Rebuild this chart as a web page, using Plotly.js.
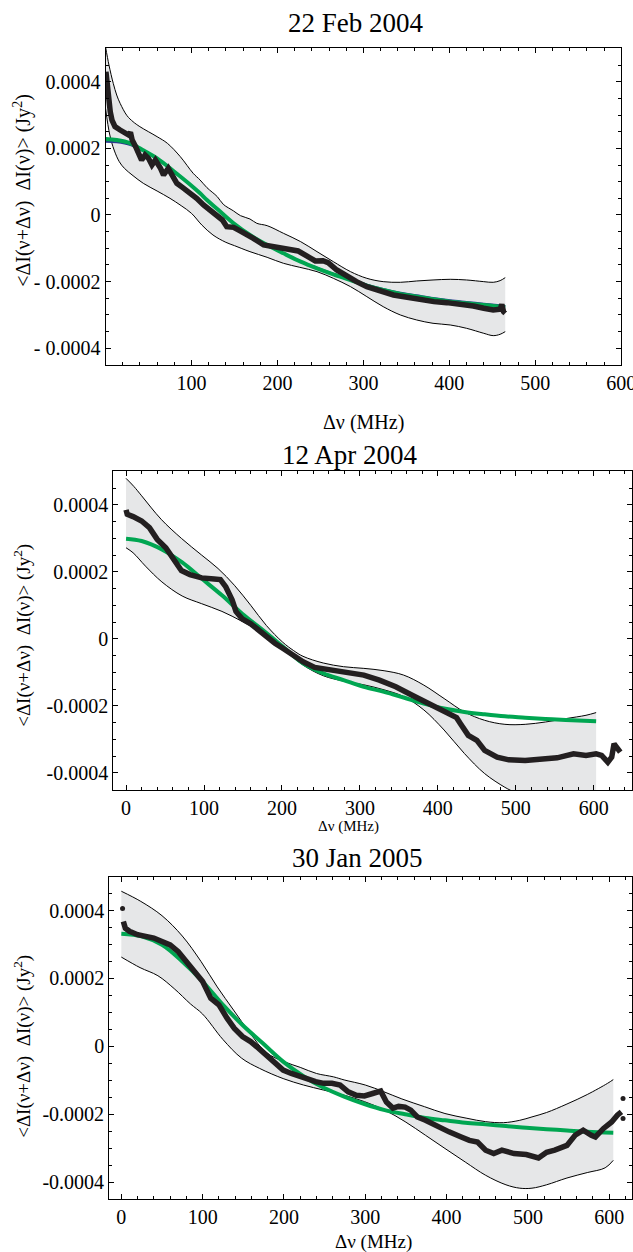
<!DOCTYPE html>
<html>
<head>
<meta charset="utf-8">
<script src="https://cdn.plot.ly/plotly-3.0.1.min.js"></script>
<style>html,body{margin:0;padding:0;background:#fff;}#chart{width:633px;height:1252px;}</style>
</head>
<body>
<div id="chart"></div>
<script>
// All y values are in units of 1e-6 Jy^2
const SCALE = 1e-6;

const panelTitles = ['22 Feb 2004', '12 Apr 2004', '30 Jan 2005'];
const yTickVals = [-0.0004, -0.0002, 0, 0.0002, 0.0004];
const yTickText1 = ['- 0.0004', '- 0.0002', '0', '0.0002', '0.0004'];
const yTickText23 = ['-0.0004', '-0.0002', '0', '0.0002', '0.0004'];
const xTickVals1 = [100, 200, 300, 400, 500, 600];
const xTickVals23 = [0, 100, 200, 300, 400, 500, 600];

// ---- Panel 1: 22 Feb 2004 ----
const p1UpperX = [0, 4, 9, 13, 17, 25, 32, 40, 60, 72, 87, 102, 110, 118, 130, 137, 149, 157, 168, 176, 188, 207, 227, 246, 265, 285, 304, 323, 343, 362, 381, 401, 420, 440, 451, 459, 465];
const p1UpperY = [505, 450, 395, 360, 335, 298, 280, 265, 235, 215, 175, 125, 105, 82, 55, 32, 12, -2, -12, -25, -32, -55, -80, -110, -140, -170, -190, -200, -202, -198, -195, -193, -195, -200, -202, -197, -188];
const p1LowerX = [0, 5, 10, 16, 22, 32, 44, 60, 75, 88, 100, 112, 125, 140, 150, 168, 188, 207, 226, 246, 265, 285, 304, 323, 343, 362, 381, 401, 420, 440, 451, 459, 465];
const p1LowerY = [320, 240, 195, 160, 140, 118, 95, 72, 50, 28, 5, -30, -60, -82, -92, -110, -127, -145, -157, -170, -190, -215, -245, -275, -300, -315, -325, -330, -340, -355, -362, -358, -350];
const p1FitX = [0, 13, 29, 40, 60, 79, 99, 110, 118, 130, 149, 168, 188, 207, 227, 246, 265, 285, 304, 323, 343, 362, 381, 401, 420, 440, 459, 465];
const p1FitY = [228, 225, 215, 200, 170, 132, 90, 65, 45, 18, -25, -60, -90, -115, -140, -160, -178, -195, -212, -225, -237, -245, -253, -260, -265, -270, -275, -277];
const p1Fit2Y = [220, 218, 210, 197, 168, 131, 90, 65, 45, 18, -25, -60, -90, -115, -139, -158, -176, -193, -209, -222, -233, -241, -249, -256, -261, -266, -271, -273];
const p1DataX = [0.5, 1.5, 2.5, 4, 5.5, 7.5, 11, 17, 23, 27, 29, 31, 35, 38.5, 42, 46, 50, 54, 58, 64, 67.5, 73, 79, 83, 91, 99, 106, 114, 122, 130, 136, 141, 149, 156, 164, 172, 184, 195, 203, 215, 224, 234, 244, 253, 259, 269, 281, 292, 304, 320, 335, 351, 366, 382, 397, 413, 428, 440, 451, 459, 461, 463, 465];
const p1DataY = [430, 405, 360, 335, 310, 285, 265, 255, 245, 240, 248, 225, 205, 180, 165, 180, 170, 150, 165, 140, 120, 140, 115, 95, 80, 65, 50, 30, 15, -3, -15, -35, -37, -47, -57, -70, -90, -95, -100, -103, -108, -123, -138, -137, -143, -165, -185, -200, -215, -230, -240, -247, -255, -260, -263, -267, -273, -280, -285, -283, -268, -290, -295];

// ---- Panel 2: 12 Apr 2004 ----
const p2UpperX = [0, 10, 20, 45, 71, 97, 118, 139, 160, 180, 201, 215, 227, 253, 279, 305, 331, 356, 382, 408, 434, 460, 486, 512, 538, 564, 590, 603];
const p2UpperY = [479, 455, 427, 357, 300, 250, 210, 160, 100, 40, -10, -35, -52, -72, -83, -88, -95, -108, -138, -178, -218, -243, -255, -255, -248, -238, -228, -220];
const p2LowerX = [0, 9, 25, 46, 72, 97, 123, 149, 175, 201, 227, 253, 279, 305, 331, 356, 382, 408, 434, 460, 486, 500, 520, 560, 603];
const p2LowerY = [272, 257, 217, 170, 128, 105, 82, 52, 18, -28, -78, -110, -126, -137, -152, -172, -212, -272, -342, -402, -443, -460, -490, -530, -560];
const p2FitX = [0, 20, 46, 72, 97, 123, 149, 175, 201, 227, 253, 279, 305, 331, 356, 382, 408, 434, 460, 486, 512, 538, 564, 603];
const p2FitY = [299, 292, 267, 228, 180, 130, 75, 27, -23, -73, -103, -123, -143, -158, -175, -193, -208, -218, -225, -231, -235, -239, -242, -246];
const p2DataX = [0, 1.5, 9, 20, 30, 40, 51, 58, 64, 71, 82, 97, 113, 121, 128, 136, 141, 149, 160, 170, 180, 191, 201, 211, 227, 242, 263, 284, 305, 325, 346, 367, 388, 408, 424, 429, 439, 450, 460, 476, 491, 512, 533, 553, 574, 590, 603, 610, 618, 623, 626, 631, 634];
const p2DataY = [385, 372, 365, 352, 332, 297, 272, 247, 222, 204, 192, 182, 179, 177, 155, 117, 82, 60, 45, 25, 7, -13, -28, -43, -68, -85, -93, -101, -108, -123, -143, -168, -193, -218, -235, -253, -288, -303, -333, -353, -361, -363, -361, -355, -343, -348, -343, -348, -368, -353, -313, -328, -338];

// ---- Panel 3: 30 Jan 2005 ----
const p3UpperX = [0, 24, 50, 75, 98, 118, 138, 158, 178, 200, 220, 240, 261, 274, 300, 323, 345, 373, 398, 425, 448, 470, 490, 505, 523, 548, 573, 598, 605];
const p3UpperY = [457, 427, 385, 325, 250, 175, 107, 40, -18, -45, -62, -80, -90, -99, -114, -134, -155, -178, -198, -212, -222, -225, -218, -208, -195, -170, -142, -109, -98];
const p3LowerX = [0, 23, 45, 65, 85, 100, 125, 148, 170, 199, 224, 249, 274, 299, 324, 349, 374, 398, 423, 448, 473, 490, 505, 523, 548, 573, 595, 605];
const p3LowerY = [263, 232, 208, 170, 125, 95, 20, -35, -65, -95, -114, -129, -144, -163, -188, -222, -262, -301, -341, -380, -408, -418, -418, -408, -388, -372, -358, -336];
const p3FitX = [0, 25, 50, 75, 100, 125, 149, 174, 199, 224, 249, 274, 299, 324, 349, 374, 398, 423, 448, 473, 498, 523, 548, 573, 605];
const p3FitY = [332, 324, 299, 250, 191, 122, 63, 9, -45, -88, -122, -148, -170, -188, -200, -211, -218, -225, -230, -235, -240, -244, -248, -252, -255];
const p3DataX = [2.5, 5, 10, 20, 30, 40, 50, 60, 70, 80, 90, 100, 110, 120, 130, 139, 149, 159, 169, 179, 189, 199, 209, 219, 229, 239, 249, 259, 269, 279, 289, 299, 309, 319, 326, 334, 341, 349, 356, 364, 374, 389, 403, 418, 428, 438, 448, 458, 468, 483, 498, 513, 523, 533, 548, 558, 568, 578, 583, 593, 603, 610, 615];
const p3DataY = [368, 348, 339, 329, 324, 319, 309, 299, 279, 250, 220, 191, 142, 122, 83, 53, 29, 14, -6, -26, -45, -70, -80, -88, -99, -104, -109, -109, -114, -134, -144, -146, -139, -132, -164, -182, -177, -179, -188, -208, -218, -237, -252, -267, -277, -282, -306, -316, -306, -316, -319, -329, -312, -306, -292, -262, -247, -262, -267, -242, -223, -203, -193];
const p3DotsX = [1.5, 617, 617];
const p3DotsY = [406, -154, -213];

const FONT = '"Liberation Serif", "Times New Roman", Times, serif';
const BAND = '#e6e7e8';
const GREEN = '#00a651';
const BLUE = '#2b3990';
const DOT = '#231f20';

const sc = a => a.map(v => v * SCALE);

function bandTraces(xa, ya, ux, uy, lx, ly) {
  return [
    {x: ux, y: sc(uy), xaxis: xa, yaxis: ya, mode: 'lines', line: {color: '#000', width: 1, shape: 'spline'}, hoverinfo: 'skip'},
    {x: lx, y: sc(ly), xaxis: xa, yaxis: ya, mode: 'lines', fill: 'tonexty', fillcolor: BAND, line: {color: '#000', width: 1, shape: 'spline'}, hoverinfo: 'skip'}
  ];
}
function fitTrace(xa, ya, fx, fy, color, w) {
  return {x: fx, y: sc(fy), xaxis: xa, yaxis: ya, mode: 'lines', line: {color: color, width: w, shape: 'spline'}};
}
function dataTrace(xa, ya, dx, dy) {
  return {x: dx, y: sc(dy), xaxis: xa, yaxis: ya, mode: 'lines', line: {color: DOT, width: 5.5}};
}

const traces = [].concat(
  bandTraces('x', 'y', p1UpperX, p1UpperY, p1LowerX, p1LowerY),
  [fitTrace('x', 'y', p1FitX, p1Fit2Y, BLUE, 2),
   fitTrace('x', 'y', p1FitX, p1FitY, GREEN, 4),
   dataTrace('x', 'y', p1DataX, p1DataY)],
  bandTraces('x2', 'y2', p2UpperX, p2UpperY, p2LowerX, p2LowerY),
  [fitTrace('x2', 'y2', p2FitX, p2FitY, GREEN, 4),
   dataTrace('x2', 'y2', p2DataX, p2DataY)],
  bandTraces('x3', 'y3', p3UpperX, p3UpperY, p3LowerX, p3LowerY),
  [fitTrace('x3', 'y3', p3FitX, p3FitY, GREEN, 4),
   dataTrace('x3', 'y3', p3DataX, p3DataY),
   {x: p3DotsX, y: sc(p3DotsY), xaxis: 'x3', yaxis: 'y3', mode: 'markers', marker: {color: DOT, size: 5}}]
);

function xAxis(domain, range, tickvals, anchor) {
  return {
    domain: domain, range: range, anchor: anchor,
    tickmode: 'array', tickvals: tickvals, ticktext: tickvals.map(String),
    ticks: 'inside', ticklen: 5, tickwidth: 1, tickcolor: '#000',
    minor: {dtick: 20, tick0: 0, ticks: 'inside', ticklen: 3, tickwidth: 1, tickcolor: '#000', showgrid: false},
    showline: true, linecolor: '#000', linewidth: 1, mirror: 'ticks',
    showgrid: false, zeroline: false, ticklabeloverflow: 'allow',
    tickfont: {family: FONT, size: 20, color: '#000'}
  };
}
function yAxis(domain, range, ticktext, anchor) {
  return {
    domain: domain, range: range, anchor: anchor,
    tickmode: 'array', tickvals: yTickVals, ticktext: ticktext,
    ticks: 'inside', ticklen: 5, tickwidth: 1, tickcolor: '#000',
    minor: {dtick: 0.00005, tick0: 0, ticks: 'inside', ticklen: 3, tickwidth: 1, tickcolor: '#000', showgrid: false},
    showline: true, linecolor: '#000', linewidth: 1, mirror: 'ticks',
    showgrid: false, zeroline: false, ticklabeloverflow: 'allow',
    tickfont: {family: FONT, size: 20, color: '#000'}
  };
}

const yTitle = '&lt;ΔI(ν+Δν)  ΔI(ν)&gt; (Jy<sup>2</sup>)';
function ann(text, x, y, size, angle) {
  return {text: text, x: x, y: y, xref: 'paper', yref: 'paper', xanchor: 'center', yanchor: 'middle',
          showarrow: false, textangle: angle || 0, font: {family: FONT, size: size, color: '#000'}};
}

const layout = {
  width: 633, height: 1252,
  margin: {l: 0, r: 0, t: 0, b: 0},
  paper_bgcolor: '#fff', plot_bgcolor: '#fff',
  showlegend: false,
  font: {family: FONT, color: '#000'},
  xaxis: xAxis([0.1667, 0.9815], [0, 600], xTickVals1, 'y'),
  yaxis: yAxis([0.7085, 0.9619], [-0.000450, 0.000502], yTickText1, 'x'),
  xaxis2: xAxis([0.1788, 0.9984], [-16.5, 649], xTickVals23, 'y2'),
  yaxis2: yAxis([0.369, 0.6238], [-0.000451, 0.000501], yTickText23, 'x2'),
  xaxis3: xAxis([0.1724, 0.9984], [-15, 628], xTickVals23, 'y3'),
  yaxis3: yAxis([0.0423, 0.2998], [-0.000450, 0.000500], yTickText23, 'x3'),
  annotations: [
    ann(panelTitles[0], 0.5619, 0.9814, 27),
    ann('Δν (MHz)', 0.574, 1 - 422 / 1252, 20),
    ann(yTitle, 0.0345, 1 - 190 / 1252, 20, -90),
    ann(panelTitles[1], 0.5523, 1 - 455 / 1252, 27),
    ann('Δν (MHz)', 0.5498, 1 - 826 / 1252, 15),
    ann(yTitle, 0.0345, 1 - 635 / 1252, 19, -90),
    ann(panelTitles[2], 0.5651, 1 - 858 / 1252, 27),
    ann('Δν (MHz)', 0.5908, 1 - 1242 / 1252, 19),
    ann(yTitle, 0.0345, 1 - 1046 / 1252, 19, -90)
  ]
};

Plotly.newPlot('chart', traces, layout, {staticPlot: true, displayModeBar: false});
</script>
</body>
</html>
